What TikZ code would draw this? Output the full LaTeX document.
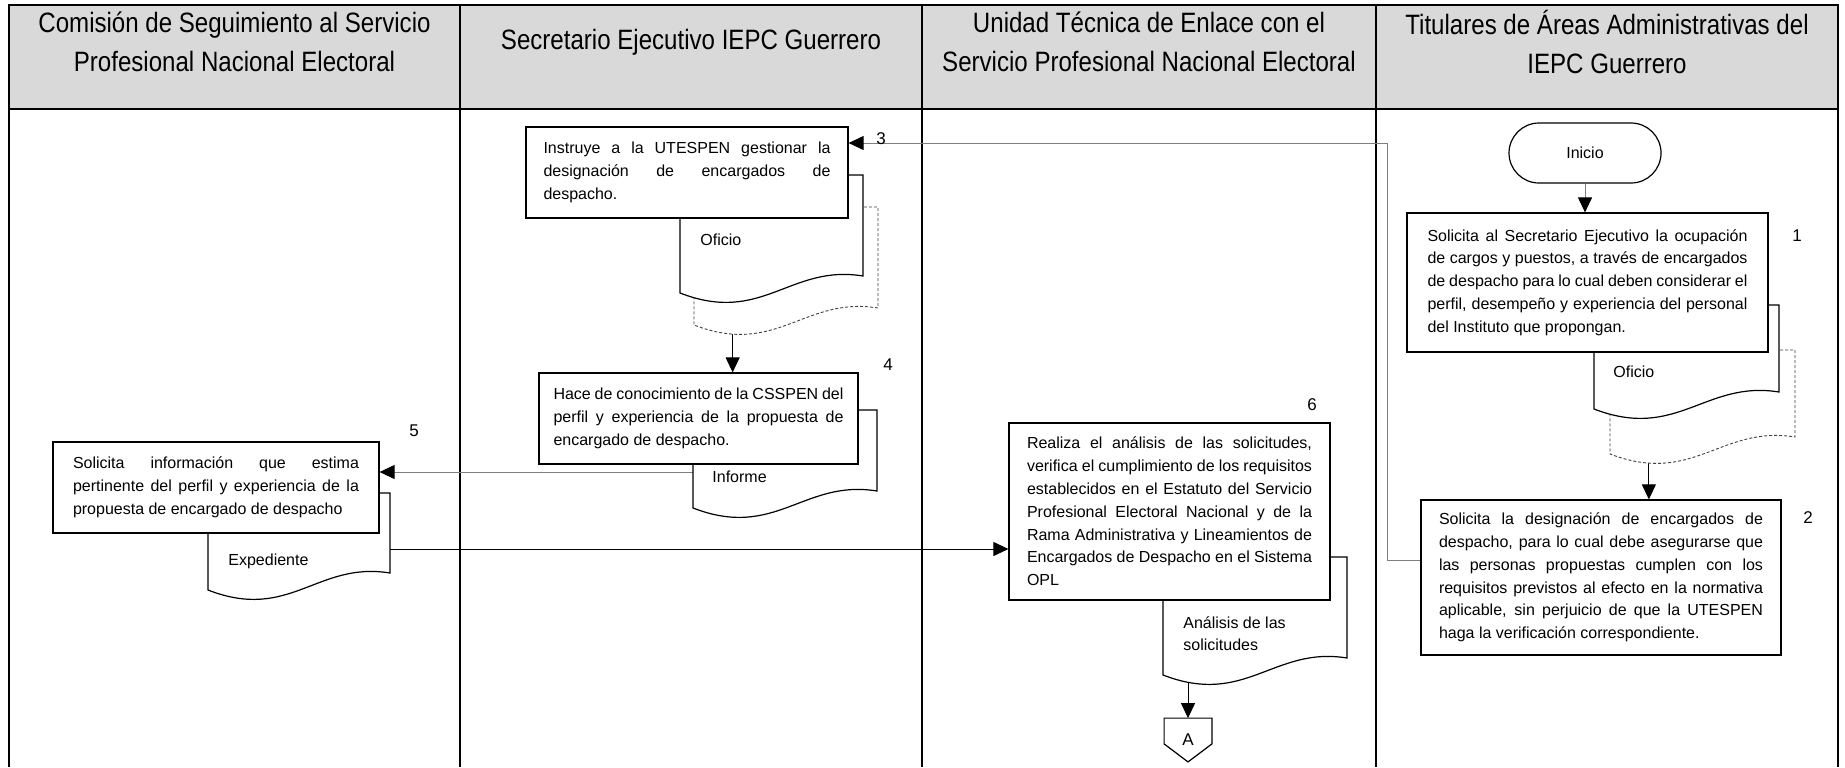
\documentclass[tikz,border=0pt]{standalone}
\usepackage{fontspec}
\setmainfont{Liberation Sans}
\newfontfamily\hdrfont[FakeStretch=0.86]{Liberation Sans}
\usetikzlibrary{arrows.meta,positioning}
\definecolor{hdrgray}{RGB}{217,217,217}
\definecolor{lngray}{RGB}{128,128,128}
\pgfdeclarelayer{background}
\pgfsetlayers{background,main}
\hyphenpenalty=10000
\hbadness=10000
% document symbol: [style]{name}{x}{y}{width}{left height}
\newcommand{\docshape}[6][]{%
  \draw[docline,#1] (#3,#4) -- ++(#5,0) -- ++(0,#6-17)
    .. controls +({-0.4*#5},-12) and +({0.45*#5},32) .. ++(-#5,17) -- cycle;
  \coordinate (#2-b) at ({#3+0.21*#5},{#4+#6-20});
}

\begin{document}
\begin{tikzpicture}[
  x=0.5pt, y=-0.5pt,
  lane/.style={line width=1.2pt},
  hdr/.style={align=center, font=\hdrfont\fontsize{14}{19.5}\selectfont},
  box/.style={draw, fill=white, line width=0.6pt, inner sep=0pt, align=justify,
              font=\fontsize{8}{11.4}\selectfont},
  term/.style={draw, fill=white, line width=0.6pt, rounded corners=15pt,
               minimum width=76pt, minimum height=30pt, font=\fontsize{8}{10}\selectfont},
  docline/.style={draw, fill=white, line width=0.6pt},
  docdash/.style={draw=black!75, dash pattern=on 1.5pt off 1pt, line width=0.45pt},
  doclbl/.style={inner sep=0pt, anchor=base west, align=left,
                 font=\fontsize{8}{11.4}\selectfont},
  num/.style={font=\fontsize{8.5}{10}\selectfont},
  arr/.style={-{Triangle[length=7.5pt,width=7pt,color=black]}, line width=0.5pt},
  garr/.style={arr, draw=lngray}
]
  \useasboundingbox (0,0) rectangle (1845,767);
  % lanes and header
  \begin{pgfonlayer}{background}
    \fill[hdrgray] (9,5) rectangle (1838,109);
    \draw[lane] (9,767) -- (9,5) -- (1838,5) -- (1838,767);
    \draw[lane] (9,109) -- (1838,109);
    \foreach \x in {460,922,1376}
      \draw[lane] (\x,5) -- (\x,767);
  \end{pgfonlayer}
  \node[hdr] (hcom) at (234.5,42) {Comisión de Seguimiento al Servicio\\Profesional Nacional Electoral};
  \node[hdr] (hsec) at (691,42) {Secretario Ejecutivo IEPC Guerrero};
  \node[hdr] (hute) at (1149,42) {Unidad Técnica de Enlace con el\\Servicio Profesional Nacional Electoral};
  \node[hdr] (htit) at (1607,42) {Titulares de Áreas Administrativas del\\IEPC Guerrero};

  % documents
  \docshape[docdash]{of1d}{1610}{350}{185}{104}
  \docshape{of1}{1594}{305}{185}{104}
  \docshape[docdash]{of3d}{694}{207}{184}{118}
  \docshape{of3}{680}{175}{183}{118}
  \docshape{inf4}{693}{410}{184}{98}
  \docshape{exp5}{208}{493}{182}{97}
  \docshape{an6}{1163}{557}{184}{118}
  \node[doclbl] (ofl1) at (1613,377) {Oficio};
  \node[doclbl] (ofl3) at (700,245) {Oficio};
  \node[doclbl] (infl4) at (712,482) {Informe};
  \node[doclbl] (expl5) at (228,565) {Expediente};
  \node[doclbl, anchor=north west] (anl6) at (1183,616) {Análisis de las\\solicitudes};

  % activities
  \node[term] (inicio) at (1585,153) {Inicio};
  \node[box, minimum width=180.5pt, minimum height=69.5pt, text width=160pt] (sol1) at (1587.5,282.5)
    {Solicita al Secretario Ejecutivo la ocupación\linebreak de cargos y puestos, a través de encargados\linebreak
     de despacho para lo cual deben considerar el\linebreak perfil, desempeño y experiencia del personal\linebreak
     del Instituto que propongan.};
  \node[box, minimum width=180pt, minimum height=77.5pt, text width=162pt] (sol2) at (1601,577.5)
    {Solicita la designación de encargados de\linebreak despacho, para lo cual debe asegurarse que\linebreak
     las personas propuestas cumplen con los\linebreak requisitos previstos al efecto en la normativa\linebreak
     aplicable, sin perjuicio de que la UTESPEN\linebreak haga la verificación correspondiente.};
  \node[box, minimum width=161pt, minimum height=45.5pt, text width=143.5pt] (ins3) at (687,172.5)
    {Instruye a la UTESPEN gestionar la\linebreak designación de encargados de\linebreak despacho.};
  \node[box, minimum width=159.5pt, minimum height=45.5pt, text width=145pt] (hace4) at (698.5,418.5)
    {Hace de conocimiento de la CSSPEN del\linebreak perfil y experiencia de la propuesta de\linebreak
     encargado de despacho.};
  \node[box, minimum width=163pt, minimum height=45.5pt, text width=143pt] (pide5) at (216,487.5)
    {Solicita información que estima\linebreak pertinente del perfil y experiencia de la\linebreak
     propuesta de encargado de despacho};
  \node[box, minimum width=160.5pt, minimum height=88.5pt, text width=142.5pt] (anal6) at (1169.5,511.5)
    {Realiza el análisis de las solicitudes,\linebreak verifica el cumplimiento de los requisitos\linebreak
     establecidos en el Estatuto del Servicio\linebreak Profesional Electoral Nacional y de la\linebreak
     Rama Administrativa y Lineamientos de\linebreak Encargados de Despacho en el Sistema\linebreak OPL};
  \node[minimum width=23.5pt, minimum height=21.5pt, inner sep=0pt,
        font=\fontsize{8.5}{10}\selectfont] (conA) at (1188,740) {A};
  \draw[docline] (conA.north west) -- (conA.north east) -- ([yshift=9pt]conA.south east)
    -- (conA.south) -- ([yshift=9pt]conA.south west) -- cycle;
  \node[font=\fontsize{8.5}{10}\selectfont] at (conA) {A};

  % connectors
  \coordinate (c23) at (1387,560);
  \coordinate (c45) at (693,472);
  \coordinate (c56) at (390,549);
  \begin{pgfonlayer}{background}
    \draw[garr] (inicio.south) -- (inicio.south |- sol1.north);
    \draw[arr] (of1d-b) -- (of1d-b |- sol2.north);
    \draw[garr] (sol2.west |- c23) -- (c23) |- ([yshift=14.75pt]ins3.east);
    \draw[arr] (of3d-b) -- (of3d-b |- hace4.north);
    \draw[garr] (c45) -- (pide5.east |- c45);
    \draw[arr] (c56) -- (anal6.west |- c56);
    \draw[arr] (conA.north |- an6-b) -- (conA.north);
  \end{pgfonlayer}

  % step numbers
  \node[num] (n1) at (1797,236) {1};
  \node[num] (n2) at (1808,518) {2};
  \node[num] (n3) at (881,139) {3};
  \node[num] (n4) at (888,365) {4};
  \node[num] (n5) at (414,431) {5};
  \node[num] (n6) at (1312,405) {6};
\end{tikzpicture}
\end{document}
